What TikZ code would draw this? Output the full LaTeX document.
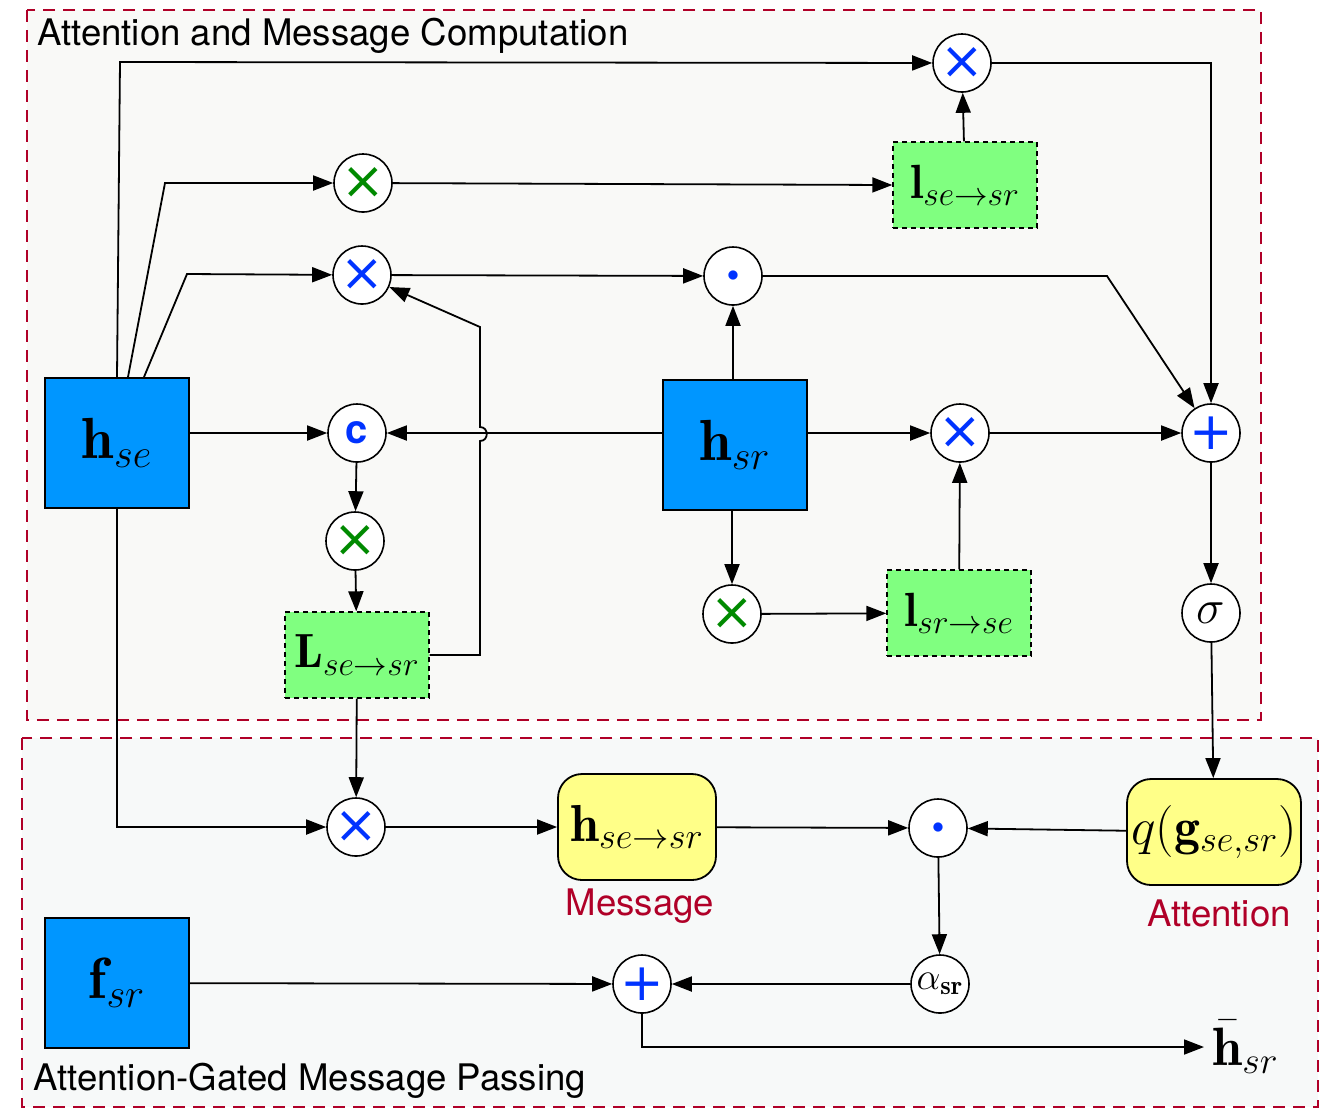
\RequirePackage{fix-cm}
\documentclass[tikz,border=0pt]{standalone}
\usepackage{amsmath}
\usepackage{fontspec}
\newfontfamily\heros{TeX Gyre Heros}
\newfontfamily\djv{DejaVu Sans}
\usetikzlibrary{arrows.meta,calc}
\definecolor{cFrame}{HTML}{B00028}
\definecolor{cBgA}{HTML}{F9F9F7}
\definecolor{cBgB}{HTML}{F7F9F9}
\definecolor{cFeat}{HTML}{0096FF}
\definecolor{cLmat}{HTML}{80FF80}
\definecolor{cOut}{HTML}{FFFF88}
\definecolor{cSym}{HTML}{0033FF}
\definecolor{cGrn}{HTML}{008A00}
\tikzset{
  frame/.style = {draw=cFrame, line width=1.3pt, dash pattern=on 6pt off 4pt},
  feat/.style  = {draw=black, fill=cFeat, line width=1pt, minimum width=72pt,
                  minimum height=65pt, font=\fontsize{29}{33}\selectfont},
  lmat/.style  = {draw=black, fill=cLmat, line width=0.7pt, dash pattern=on 2.5pt off 2pt,
                  minimum width=72pt, minimum height=43pt, font=\fontsize{24}{28}\selectfont},
  res/.style   = {draw=black, fill=cOut, line width=0.9pt, rounded corners=12pt,
                  minimum height=53pt, inner xsep=2pt, font=\fontsize{26}{30}\selectfont},
  op/.style    = {circle, draw=black, fill=white, line width=0.8pt, minimum size=29pt,
                  inner sep=0pt},
  opb/.style   = {op, text=cSym, font=\djv\fontsize{26}{26}\selectfont},
  opg/.style   = {op, text=cGrn, font=\djv\fontsize{26}{26}\selectfont},
  flow/.style  = {-{Triangle[length=10pt, width=7.5pt]}, line width=0.9pt},
  lbl/.style   = {font=\heros\fontsize{18.3}{22}\selectfont},
}

\begin{document}
\begin{tikzpicture}[x=0.5pt, y=-0.5pt]
  \useasboundingbox (0,0) rectangle (1332,1116);
  % groups
  \draw[frame, fill=cBgA] (27,10) rectangle (1261,720);
  \draw[frame, fill=cBgB] (22,738) rectangle (1318,1107);
  \node[lbl, anchor=west, inner sep=0pt] (tA) at (37,36) {Attention and Message Computation};
  \node[lbl, anchor=west, inner sep=0pt] (tB) at (33,1081) {Attention-Gated Message Passing};

  % features
  \node[feat] (hse) at (117,443) {$\mathbf{h}_{se}$};
  \node[feat] (hsr) at (735,445) {$\mathbf{h}_{sr}$};
  \node[feat] (fsr) at (117,983) {$\mathbf{f}_{sr}$};
  \node[lmat] (lse) at (965,185) {$\mathbf{l}_{se\to sr}$};
  \node[lmat] (Lse) at (357,655) {$\mathbf{L}_{se\to sr}$};
  \node[lmat] (lsr) at (959,613) {$\mathbf{l}_{sr\to se}$};
  \node[res, minimum width=79pt] (msg) at (637,827) {$\mathbf{h}_{se\to sr}$};
  \node[res, minimum width=87pt] (att) at (1214,832) {$q(\mathbf{g}_{se,sr})$};
  \node[lbl, text=cFrame] (msgL) at (640,906) {Message};
  \node[lbl, text=cFrame] (attL) at (1219,913) {Attention};
  \node[anchor=west, inner sep=4pt, font=\fontsize{27}{31}\selectfont] (hb) at (1204,1047)
    {$\bar{\mathbf{h}}_{sr}$};

  % operators
  \node[opb] (mT)  at (962,63)  {×};
  \node[opg] (mG1) at (363,183) {×};
  \node[opb] (mB1) at (362,275) {×};
  \node[op, text=cSym, font=\fontsize{12}{12}\selectfont] (dA) at (733,276) {$\bullet$};
  \node[opb, font=\heros\bfseries\fontsize{20}{20}\selectfont] (cc) at (357,433) {c};
  \node[opg] (mG2) at (355,541) {×};
  \node[opb] (mB2) at (960,433) {×};
  \node[opb] (pA) at (1211,433) {+};
  \node[opg] (mG3) at (732,614) {×};
  \node[op, font=\fontsize{24}{24}\selectfont] (sg) at (1211,613) {$\sigma$};
  \node[opb] (mB3) at (356,827) {×};
  \node[op, text=cSym, font=\fontsize{12}{12}\selectfont] (dB) at (938,828) {$\bullet$};
  \node[op, font=\fontsize{19}{19}\selectfont] (al) at (940,984) {$\alpha_{\mathbf{sr}}$};
  \node[opb] (pB) at (642,984) {+};

  % attention branch
  \draw[flow] (hse.north) -- (120,62) -- (mT);
  \draw[flow] ($(hse.north)+(11,0)$) -- (165,183) -- (mG1);
  \draw[flow] ($(hse.north)+(27,0)$) -- (187,274) -- (mB1);
  \draw[flow] (mG1) -- (lse.west);
  \draw[flow] (lse) -- (mT);
  \draw[flow] (mB1) -- (dA);
  \draw[flow] (hse.east |- cc) -- (cc);
  \draw[flow] (hsr.west |- cc) -- (cc);
  \draw[flow] (cc) -- (mG2);
  \draw[flow] (mG2) -- (Lse);
  \draw[flow] (Lse.east) -- (480,655) -- (480,441)
    .. controls (489,441) and (489,427) .. (480,427) -- (480,327) -- (mB1);
  \draw[flow] (hsr.north -| dA) -- (dA);
  \draw[flow] (dA) -- (1107,276) -- (pA);
  \draw[flow] (mT) -| (pA);
  \draw[flow] (hsr.east |- mB2) -- (mB2);
  \draw[flow] (mB2) -- (pA);
  \draw[flow] (hsr.south -| mG3) -- (mG3);
  \draw[flow] (mG3) -- (lsr);
  \draw[flow] (lsr) -- (mB2);
  \draw[flow] (pA) -- (sg);
  \draw[flow] (sg) -- (att);

  % message passing
  \draw[flow] (hse.south) |- (mB3);
  \draw[flow] (Lse) -- (mB3);
  \draw[flow] (mB3) -- (msg);
  \draw[flow] (msg) -- (dB);
  \draw[flow] (att) -- (dB);
  \draw[flow] (dB) -- (al);
  \draw[flow] (al) -- (pB);
  \draw[flow] (fsr) -- (pB);
  \draw[flow] (pB) |- (hb.west);
\end{tikzpicture}
\end{document}
